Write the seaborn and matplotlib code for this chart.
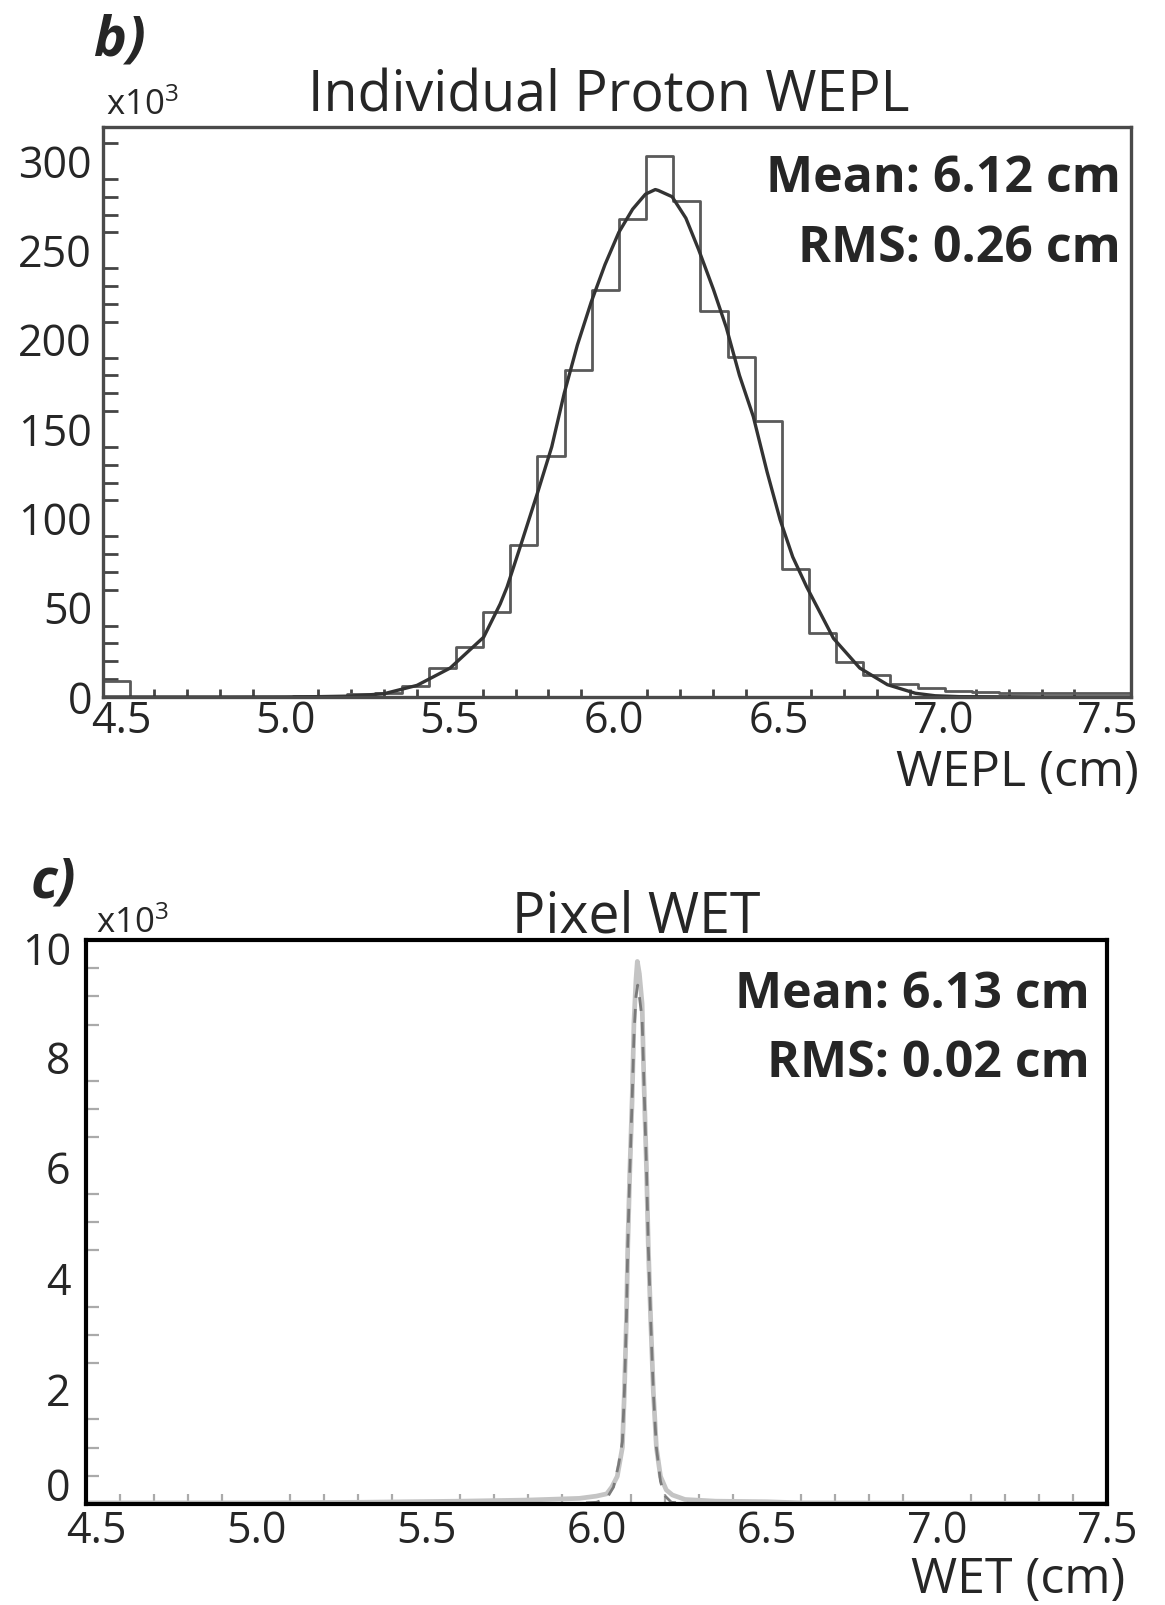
import numpy as np
import pandas as pd
import matplotlib
matplotlib.use("Agg")
import matplotlib.pyplot as plt
import matplotlib.transforms as mtransforms
from matplotlib.ticker import FixedLocator, MultipleLocator
import seaborn as sns

# ---------------- data: panel b (individual proton WEPL histogram) ----------------
wepl_bin_edges = [4.445 + 0.0826 * k for k in range(39)]
wepl_counts = [9, 0, 0, 0, 0, 0, 0, 0.3, 0.8, 1.5,
               2, 6, 16.5, 28, 47.5, 85.3, 135, 182.8, 227.8, 267.6,
               302.7, 277.6, 216.3, 190.5, 154.3, 71.4, 35.7, 19.6, 12.3, 7.2,
               4.8, 3.5, 3, 2.5, 2.5, 2, 2, 2]

# Gaussian fit curve
fit_b_x = [4.45, 4.80, 5.00, 5.10, 5.198, 5.299, 5.400, 5.501, 5.603, 5.653, 5.674,
           5.714, 5.768, 5.81, 5.848, 5.888, 5.930, 5.972, 6.014, 6.056, 6.095,
           6.125, 6.134, 6.176, 6.218, 6.257, 6.302, 6.341, 6.381, 6.423, 6.465,
           6.505, 6.543, 6.585, 6.667, 6.747, 6.831, 6.916, 6.976, 7.05, 7.30, 7.57]
fit_b_y = [0, 0, 0.05, 0.2, 0.5, 1.8, 6.5, 16.2, 33.5, 52, 61.5,
           84, 115, 140, 170, 197, 221, 242, 260, 273, 281.4,
           284, 283.5, 280, 268, 250.3, 228, 206.8, 180, 157, 126,
           99, 78.4, 61.8, 32.8, 16.2, 6.9, 2.1, 0.7, 0.2, 0, 0]

# ---------------- data: panel c (pixel WET) ----------------
wet_hist_x = [4.50, 5.00, 5.30, 5.60, 5.80, 5.95, 6.00, 6.03, 6.045, 6.061, 6.076,
              6.082, 6.088, 6.092, 6.098, 6.105, 6.110, 6.116, 6.120, 6.126, 6.134,
              6.139, 6.147, 6.152, 6.159, 6.167, 6.176, 6.188, 6.205, 6.223, 6.26,
              6.35, 6.50, 6.60, 7.50]
wet_hist_y = [0.02, 0.02, 0.03, 0.05, 0.07, 0.10, 0.14, 0.18, 0.30, 0.49, 1.0,
              1.99, 3.30, 4.61, 5.92, 7.23, 8.54, 9.3, 9.62, 9.4, 8.87,
              7.56, 5.92, 4.61, 3.30, 1.99, 1.0, 0.49, 0.25, 0.16, 0.08,
              0.05, 0.04, 0.02, 0.01]

fit_c_x = [4.50, 5.90, 6.00, 6.03, 6.05, 6.065, 6.076, 6.082, 6.088, 6.092, 6.098,
           6.105, 6.110, 6.116, 6.121, 6.126, 6.134, 6.139, 6.147, 6.152, 6.159,
           6.167, 6.176, 6.188, 6.20, 6.22, 6.30, 7.50]
fit_c_y = [0, 0, 0.03, 0.1, 0.3, 0.7, 1.1, 1.99, 3.30, 4.61, 5.92,
           7.23, 8.3, 9.0, 9.2, 9.0, 8.6, 7.56, 5.92, 4.61, 3.30,
           1.99, 1.0, 0.4, 0.15, 0.03, 0, 0]

# ticks / labels
x_major = [4.5, 5.0, 5.5, 6.0, 6.5, 7.0, 7.5]
x_labels = ["4.5", "5.0", "5.5", "6.0", "6.5", "7.0", "7.5"]
yb_major = [0, 50, 100, 150, 200, 250, 300]
yc_major = [0, 2, 4, 6, 8, 10]

sns.set_theme(style="white")
plt.rcParams["font.family"] = ["Open Sans", "DejaVu Sans"]
plt.rcParams["mathtext.fontset"] = "custom"
plt.rcParams["mathtext.rm"] = "Open Sans"
plt.rcParams["mathtext.it"] = "Open Sans"

W, H = 1165, 1605
fig = plt.figure(figsize=(W / 100, H / 100), dpi=100)
fig.patch.set_facecolor("white")

def fx(px):
    return px / W

def fy(py):
    return 1 - py / H

TICK_FS = 31

# axes placement (pixel boxes)
ax1 = fig.add_axes([fx(103), fy(697), (1131 - 103) / W, (697 - 127) / H])
ax2 = fig.add_axes([fx(86), fy(1504), (1107 - 86) / W, (1504 - 940) / H])

# ---------------- panel b ----------------
centers = [(wepl_bin_edges[i] + wepl_bin_edges[i + 1]) / 2 for i in range(len(wepl_counts))]
dfb = pd.DataFrame({"x": centers, "w": wepl_counts})
sns.histplot(data=dfb, x="x", weights="w", bins=wepl_bin_edges, element="step",
             fill=False, color="#5a5a5a", linewidth=2.0, ax=ax1)
dff = pd.DataFrame({"x": fit_b_x, "y": fit_b_y})
sns.lineplot(data=dff, x="x", y="y", color="#333333", linewidth=2.4, ax=ax1, sort=False)

ax1.set_xlim(4.445, 7.572)
ax1.set_ylim(0, 319)
ax1.xaxis.set_major_locator(FixedLocator(x_major))
ax1.set_xticklabels(x_labels)
ax1.xaxis.set_minor_locator(MultipleLocator(0.1))
ax1.yaxis.set_major_locator(FixedLocator(yb_major))
ax1.set_yticklabels([str(v) for v in yb_major])
ax1.yaxis.set_minor_locator(MultipleLocator(10))
ax1.tick_params(axis="y", which="major", direction="in", length=21, width=2,
                color="#444444", labelsize=TICK_FS, pad=8, right=False)
ax1.tick_params(axis="y", which="minor", direction="in", length=11, width=2,
                color="#444444", left=True, right=False)
ax1.tick_params(axis="x", which="major", direction="in", length=11, width=2,
                color="#444444", labelsize=TICK_FS, pad=2, top=False)
ax1.tick_params(axis="x", which="minor", direction="in", length=6, width=2,
                color="#444444", bottom=True, top=False)
for s in ax1.spines.values():
    s.set_color("#4a4a4a")
    s.set_linewidth(2.4)
ax1.set_xlabel("")
ax1.set_ylabel("")
ax1.text(1.0078, (697 - 786) / 570, "WEPL (cm)", transform=ax1.transAxes,
         ha="right", va="baseline", fontsize=36)

# ---------------- panel c ----------------
dfh = pd.DataFrame({"x": wet_hist_x, "y": wet_hist_y})
sns.lineplot(data=dfh, x="x", y="y", color="#c4c4c4", linewidth=3.4, ax=ax2, sort=False)
dfc = pd.DataFrame({"x": fit_c_x, "y": fit_c_y})
sns.lineplot(data=dfc, x="x", y="y", color="#7a7a7a", linewidth=2.0, ax=ax2, sort=False,
             linestyle=(0, (5, 4)))

ax2.set_xlim(4.5, 7.5)
ax2.set_ylim(0, 10)
ax2.xaxis.set_major_locator(FixedLocator(x_major))
ax2.set_xticklabels(x_labels)
ax2.xaxis.set_minor_locator(MultipleLocator(0.1))
ax2.yaxis.set_major_locator(FixedLocator(yc_major))
ax2.set_yticklabels([str(v) for v in yc_major])
ax2.yaxis.set_minor_locator(MultipleLocator(0.5))
ax2.tick_params(axis="y", which="major", direction="in", length=20, width=1.6,
                color="#aaaaaa", labelsize=TICK_FS, pad=11, right=False)
ax2.tick_params(axis="y", which="minor", direction="in", length=9, width=1.6,
                color="#aaaaaa", left=True, right=False)
ax2.tick_params(axis="x", which="major", direction="in", length=13, width=1.6,
                color="#aaaaaa", labelsize=TICK_FS, pad=4, top=False)
ax2.tick_params(axis="x", which="minor", direction="in", length=7, width=1.6,
                color="#aaaaaa", bottom=True, top=False)
for s in ax2.spines.values():
    s.set_color("black")
    s.set_linewidth(3)
ax2.set_xlabel("")
ax2.set_ylabel("")
ax2.text((1125 - 86) / 1021, (1504 - 1593) / 564, "WET (cm)", transform=ax2.transAxes,
         ha="right", va="baseline", fontsize=36)

# y tick labels of panel c: slight vertical offsets as in the reference
ylab_shift_px = {0: 20, 2: 2, 4: 0, 6: -2, 8: -4, 10: -8}
for lbl, v in zip(ax2.get_yticklabels(), yc_major):
    off = mtransforms.ScaledTranslation(0, ylab_shift_px[v] / 100, fig.dpi_scale_trans)
    lbl.set_transform(lbl.get_transform() + off)
# nudge the first x label of panel c a little to the right
first_x = ax2.get_xticklabels()[0]
first_x.set_transform(first_x.get_transform()
                      + mtransforms.ScaledTranslation(10 / 100, 0, fig.dpi_scale_trans))

# ---------------- text ----------------
fig.text(fx(94), fy(55), "b)", fontsize=40, fontweight="bold", fontstyle="italic",
         ha="left", va="baseline")
fig.text(fx(31), fy(898), "c)", fontsize=40, fontweight="bold", fontstyle="italic",
         ha="left", va="baseline")
fig.text(fx(106), fy(115), r"x10$^{3}$", fontsize=25, ha="left", va="baseline")
fig.text(fx(96), fy(933), r"x10$^{3}$", fontsize=25, ha="left", va="baseline")
fig.text(fx(609), fy(111), "Individual Proton WEPL", fontsize=40, ha="center", va="baseline")
fig.text(fx(636), fy(932), "Pixel WET", fontsize=40, ha="center", va="baseline")

fig.text(fx(1121), fy(192), "Mean: 6.12 cm", fontsize=36, fontweight="bold", ha="right", va="baseline")
fig.text(fx(1121), fy(262), "RMS: 0.26 cm", fontsize=36, fontweight="bold", ha="right", va="baseline")
fig.text(fx(1090), fy(1008), "Mean: 6.13 cm", fontsize=36, fontweight="bold", ha="right", va="baseline")
fig.text(fx(1090), fy(1077), "RMS: 0.02 cm", fontsize=36, fontweight="bold", ha="right", va="baseline")

fig.savefig("out.png", dpi=100, facecolor="white")
